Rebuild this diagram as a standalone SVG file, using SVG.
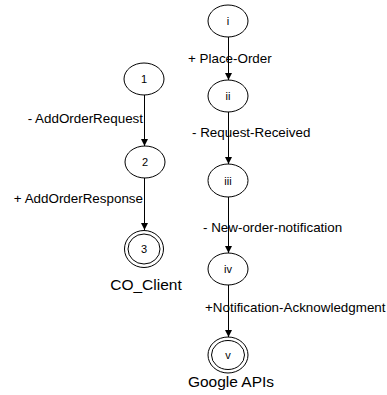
<svg xmlns="http://www.w3.org/2000/svg" width="387" height="395" viewBox="0 0 387 395">
<defs>
<marker id="arr" markerWidth="8" markerHeight="8" refX="7" refY="4" orient="auto" markerUnits="userSpaceOnUse">
<path d="M0,0.5 L7,4 L0,7.5 Z" fill="#000"/>
</marker>
<style>
.n{fill:#fff;stroke:#000;stroke-width:1}
.t{font-family:"Liberation Sans",Arial,sans-serif;font-size:11px;fill:#000;text-anchor:middle}
.l{font-family:"Liberation Sans",Arial,sans-serif;font-size:13.4px;fill:#000}
.b{font-family:"Liberation Sans",Arial,sans-serif;font-size:15.5px;fill:#000;text-anchor:middle}
.e{stroke:#000;stroke-width:1;fill:none;marker-end:url(#arr)}
</style>
</defs>
<rect width="387" height="395" fill="#fff"/>
<g id="connectors">
<line class="e" x1="144.5" y1="95" x2="144.5" y2="146"/>
<line class="e" x1="144.5" y1="178" x2="144.5" y2="230"/>
<line class="e" x1="228.5" y1="37" x2="228.5" y2="80"/>
<line class="e" x1="228.5" y1="112" x2="228.5" y2="164"/>
<line class="e" x1="228.5" y1="197" x2="228.5" y2="253"/>
<line class="e" x1="228.5" y1="285" x2="228.5" y2="337"/>
</g>
<g id="label-addorderrequest"><text class="l" x="143" y="123" text-anchor="end">- AddOrderRequest</text></g>
<g id="label-addorderresponse"><text class="l" x="143" y="203" text-anchor="end">+ AddOrderResponse</text></g>
<g id="label-placeorder"><text class="l" x="188" y="63">+ Place-Order</text></g>
<g id="label-requestreceived"><text class="l" x="192" y="137">- Request-Received</text></g>
<g id="label-neworder"><text class="l" x="203" y="232">- New-order-notification</text></g>
<g id="label-ack"><text class="l" x="205" y="312">+Notification-Acknowledgment</text></g>
<g id="node-1"><ellipse class="n" cx="144" cy="79" rx="20" ry="16"/><text class="t" x="144" y="83">1</text></g>
<g id="node-2"><ellipse class="n" cx="145" cy="162" rx="20" ry="16"/><text class="t" x="145" y="166">2</text></g>
<g id="node-3"><ellipse class="n" cx="144" cy="249" rx="19.5" ry="18.5"/><ellipse class="n" cx="144" cy="249" rx="16" ry="15"/><text class="t" x="144" y="253">3</text></g>
<g id="co-client"><text class="b" x="146" y="290">CO_Client</text></g>
<g id="node-i"><ellipse class="n" cx="228" cy="21" rx="20" ry="16"/><text class="t" x="228" y="25">i</text></g>
<g id="node-ii"><ellipse class="n" cx="228" cy="96" rx="20" ry="16"/><text class="t" x="228" y="100">ii</text></g>
<g id="node-iii"><ellipse class="n" cx="228" cy="180.5" rx="20" ry="16.5"/><text class="t" x="228" y="184.5">iii</text></g>
<g id="node-iv"><ellipse class="n" cx="228" cy="269" rx="20" ry="16"/><text class="t" x="228" y="273">iv</text></g>
<g id="node-v"><ellipse class="n" cx="228" cy="355" rx="20" ry="18"/><ellipse class="n" cx="228" cy="355" rx="16.5" ry="14.5"/><text class="t" x="228" y="359">v</text></g>
<g id="google-apis"><text class="b" x="231" y="387">Google APIs</text></g>
</svg>
